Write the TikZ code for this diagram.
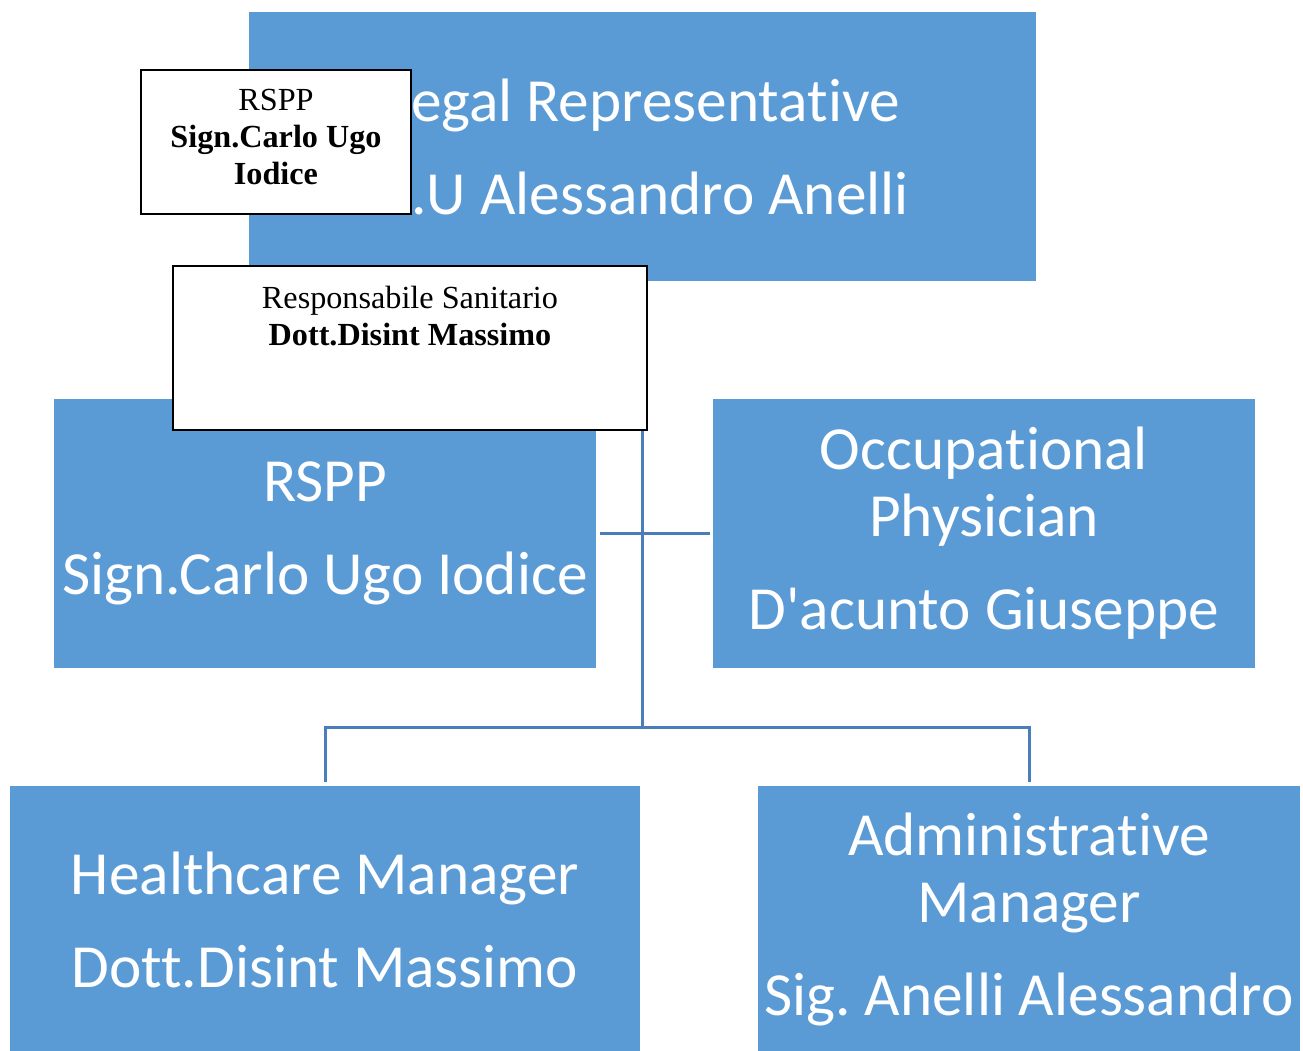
\documentclass[tikz,border=0pt]{standalone}
\usepackage{fontspec}
\setmainfont{Liberation Serif}
\newfontfamily\boxfont[Ligatures=CommonOff]{Carlito}
\definecolor{unitblue}{HTML}{5B9BD5}
\definecolor{linkblue}{HTML}{4A7EBB}
\begin{document}
\frenchspacing
\begin{tikzpicture}[x=1pt,y=-1pt,
  unit/.style={rectangle, fill=unitblue, draw=none, inner sep=0pt, align=center,
    text=white, font=\boxfont\fontsize{61.3}{67}\selectfont},
  note/.style={rectangle, fill=white, draw=black, line width=2pt, inner sep=0pt},
  notetext/.style={align=center, inner sep=0pt, font=\fontsize{32.2}{37}\selectfont},
  link/.style={draw=linkblue, line width=3pt}]
\useasboundingbox (0,0) rectangle (1303,1050);

% reporting lines
\coordinate (trunk) at (642,727);
\coordinate (hmTop) at (325,782);
\coordinate (amTop) at (1029,782);
\draw[link] (642,281) -- (trunk);
\draw[link] (600,533) -- (710,533);
\draw[link] (hmTop) |- (trunk) -| (amTop);

% organisation units
\node[unit, minimum width=787pt, minimum height=269pt] (legal) at (642.5,146.5)
  {Legal Representative\\[26pt]A.U Alessandro Anelli};
\node[unit, minimum width=542pt, minimum height=269pt] (rspp) at (325,533.5)
  {RSPP\\[26pt]Sign.Carlo Ugo Iodice};
\node[unit, minimum width=542pt, minimum height=269pt] (occ) at (984,533.5)
  {Occupational\\Physician\\[26pt]D'acunto Giuseppe};
\node[unit, minimum width=630pt, minimum height=267pt] (hm) at (325,919.5)
  {Healthcare Manager\\[26pt]Dott.Disint Massimo};
\node[unit, minimum width=542pt, minimum height=267pt] (am) at (1029,919.5)
  {Administrative\\Manager\\[26pt]Sig. Anelli Alessandro};

% overlaid text boxes
\node[note, minimum width=270pt, minimum height=144pt] (rsppnote) at (276,142) {};
\node[notetext, anchor=north] (rsppnotetext) at (276,89)
  {RSPP\\\textbf{Sign.Carlo Ugo}\\\textbf{Iodice}};
\node[note, minimum width=474pt, minimum height=164pt] (sannote) at (410,348) {};
\node[notetext, anchor=north] (sannotetext) at (410,285.5)
  {Responsabile Sanitario\\\textbf{Dott.Disint Massimo}};
\end{tikzpicture}
\end{document}
